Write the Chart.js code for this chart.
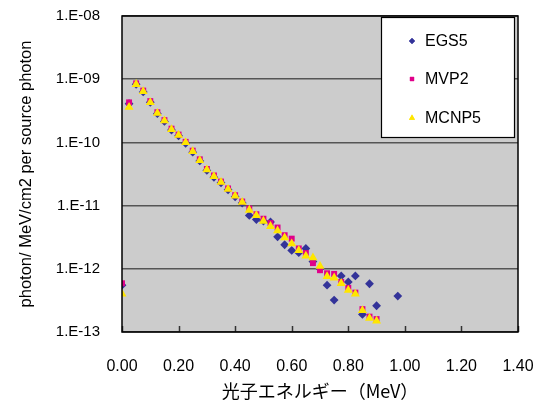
<!DOCTYPE html>
<html><head><meta charset="utf-8">
<script src="https://cdn.jsdelivr.net/npm/chart.js@4/dist/chart.umd.min.js"></script>
<style>html,body{margin:0;padding:0;background:#fff;}#wrap{width:543px;height:407px;}</style>
</head><body><div id="wrap"><canvas id="c" width="543" height="407"></canvas></div>
<script>
const energies = [0,0.025,0.05,0.075,0.1,0.125,0.15,0.175,0.2,0.225,0.25,0.275,0.3,0.325,0.35,0.375,0.4,0.425,0.45,0.475,0.5,0.525,0.55,0.575,0.6,0.625,0.65,0.675,0.7,0.725,0.75,0.775,0.8,0.825,0.85,0.875,0.9,0.925,0.95,0.975];
const egs5 = [5.5e-13,4.1e-10,8.3e-10,6.3e-10,4.3e-10,2.85e-10,2.15e-10,1.57e-10,1.27e-10,9.7e-11,7.0e-11,5.1e-11,3.6e-11,2.8e-11,2.3e-11,1.78e-11,1.38e-11,1.1e-11,7.0e-12,6.0e-12,5.7e-12,5.5e-12,3.2e-12,2.4e-12,1.95e-12,1.8e-12,2.1e-12,1.3e-12,1.0e-12,5.5e-13,3.2e-13,7.7e-13,6.2e-13,7.7e-13,1.9e-13,5.8e-13,2.6e-13,null,null,3.7e-13];
const mvp2 = [5.9e-13,4.3e-10,8.6e-10,6.6e-10,4.5e-10,3.0e-10,2.25e-10,1.65e-10,1.33e-10,1.02e-10,7.4e-11,5.4e-11,3.8e-11,3.0e-11,2.4e-11,1.87e-11,1.46e-11,1.16e-11,9.0e-12,7.3e-12,6.2e-12,5.3e-12,4.5e-12,3.4e-12,3.0e-12,2.1e-12,1.78e-12,1.23e-12,9.5e-13,8.5e-13,8.3e-13,6.2e-13,5.0e-13,4.2e-13,2.3e-13,1.75e-13,1.6e-13,null,null,null];
const mcnp5 = [4.0e-13,3.6e-10,8.3e-10,6.4e-10,4.3e-10,2.9e-10,2.2e-10,1.6e-10,1.3e-10,1.0e-10,7.2e-11,5.2e-11,3.7e-11,2.9e-11,2.35e-11,1.82e-11,1.42e-11,1.13e-11,8.5e-12,7.0e-12,5.7e-12,4.7e-12,4.0e-12,3.1e-12,2.5e-12,1.95e-12,1.6e-12,1.5e-12,1.1e-12,7.6e-13,7.2e-13,5.9e-13,4.6e-13,4.0e-13,2.2e-13,1.65e-13,1.5e-13,null,null,null];
const seriesNames = ["EGS5","MVP2","MCNP5"];
const yTickExps = [-13,-12,-11,-10,-9,-8];
const xTitle = "光子エネルギー（MeV）";
const yTitle = "photon/ MeV/cm2 per source photon";

const COL = {egs:"#333399", mvp:"#e0008a", mc:"#ffe600"};
function pts(arr){ const o=[]; arr.forEach((v,i)=>{ if(v!==null) o.push({x:energies[i], y:v}); }); return o; }

const styles = [
  {label:seriesNames[0], data:pts(egs5), pointStyle:'rectRot', pointRadius:4.4, backgroundColor:COL.egs, borderColor:COL.egs, order:3},
  {label:seriesNames[1], data:pts(mvp2), pointStyle:'rect', pointRadius:4.2, backgroundColor:COL.mvp, borderColor:COL.mvp, order:2},
  {label:seriesNames[2], data:pts(mcnp5), pointStyle:'triangle', pointRadius:5.2, backgroundColor:COL.mc, borderColor:COL.mc, order:1}
];
styles.forEach(s=>{ s.showLine=false; s.borderWidth=0; s.pointHoverRadius=s.pointRadius; });

const FONT = "'Liberation Sans', Arial, sans-serif";

const bgPlugin = {
  id:'bg',
  beforeDraw(chart){
    const a=chart.chartArea, ctx=chart.ctx;
    ctx.save(); ctx.fillStyle='#cccccc'; ctx.fillRect(a.left,a.top,a.right-a.left,a.bottom-a.top); ctx.restore();
  },
  afterDatasetsDraw(chart){
    const a=chart.chartArea, ctx=chart.ctx;
    ctx.save();
    ctx.strokeStyle='#333'; ctx.lineWidth=1.5;
    chart.scales.x.ticks.forEach(t=>{
      const px=Math.round(chart.scales.x.getPixelForValue(t.value))+0.5;
      ctx.beginPath(); ctx.moveTo(px,a.bottom); ctx.lineTo(px,a.bottom-6); ctx.stroke();
    });
    ctx.strokeStyle='#000'; ctx.lineWidth=1.5;
    ctx.strokeRect(a.left,a.top,a.right-a.left,a.bottom-a.top);
    const L=381,T=17,R=514,B=137;
    ctx.fillStyle='#fff'; ctx.fillRect(L,T,R-L,B-T);
    ctx.strokeStyle='#000'; ctx.lineWidth=1.2; ctx.strokeRect(L+0.5,T+0.5,R-L,B-T);
    const rows=[41,79,118];
    chart.data.datasets.forEach((ds,i)=>{
      const y=rows[i];
      ctx.fillStyle=ds.backgroundColor;
      Chart.helpers.drawPoint(ctx,{pointStyle:ds.pointStyle, radius: ds.pointStyle==='triangle'?3.5:3, rotation:0, borderWidth:0}, 412, y);
      ctx.fill();
      ctx.fillStyle='#000'; ctx.font='16px '+FONT; ctx.textBaseline='middle'; ctx.textAlign='left';
      ctx.fillText(ds.label, 425, y+1);
    });
    ctx.restore();
  }
};

new Chart(document.getElementById('c'), {
  type:'scatter',
  data:{datasets:styles},
  options:{
    responsive:false, animation:false, devicePixelRatio:1,
    layout:{padding:{left:0,right:25,top:16,bottom:0}},
    plugins:{legend:{display:false}, tooltip:{enabled:false}},
    scales:{
      x:{type:'linear', min:0, max:1.4,
         ticks:{stepSize:0.2, padding:25, color:'#000', font:{family:FONT,size:16}, callback:v=>Number(v).toFixed(2)},
         grid:{display:false, drawTicks:false},
         border:{display:false},
         title:{display:true, text:xTitle, color:'#000', font:{family:"'Noto Sans CJK JP', sans-serif", size:18}, padding:{top:2,bottom:5}},
         afterFit(s){ s.height=75; s.paddingLeft=0; s.paddingRight=0; }
      },
      y:{type:'logarithmic', min:1e-13, max:1e-8,
         afterBuildTicks(s){ s.ticks = yTickExps.map(e=>({value:Math.pow(10,e)})); },
         ticks:{padding:22, color:'#000', font:{family:FONT,size:15},
           callback:(v)=>{ const e=Math.round(Math.log10(v)); return '1.E'+(e<0?'-':'+')+String(Math.abs(e)).padStart(2,'0'); }},
         grid:{color:'#555', lineWidth:1.5, drawTicks:false},
         border:{display:false},
         title:{display:true, text:yTitle, color:'#000', font:{family:FONT,size:16.5}, padding:{top:17,bottom:0}},
         afterFit(s){ s.width=122; s.paddingTop=0; s.paddingBottom=0; }
      }
    }
  },
  plugins:[bgPlugin]
});
</script>
</body></html>
